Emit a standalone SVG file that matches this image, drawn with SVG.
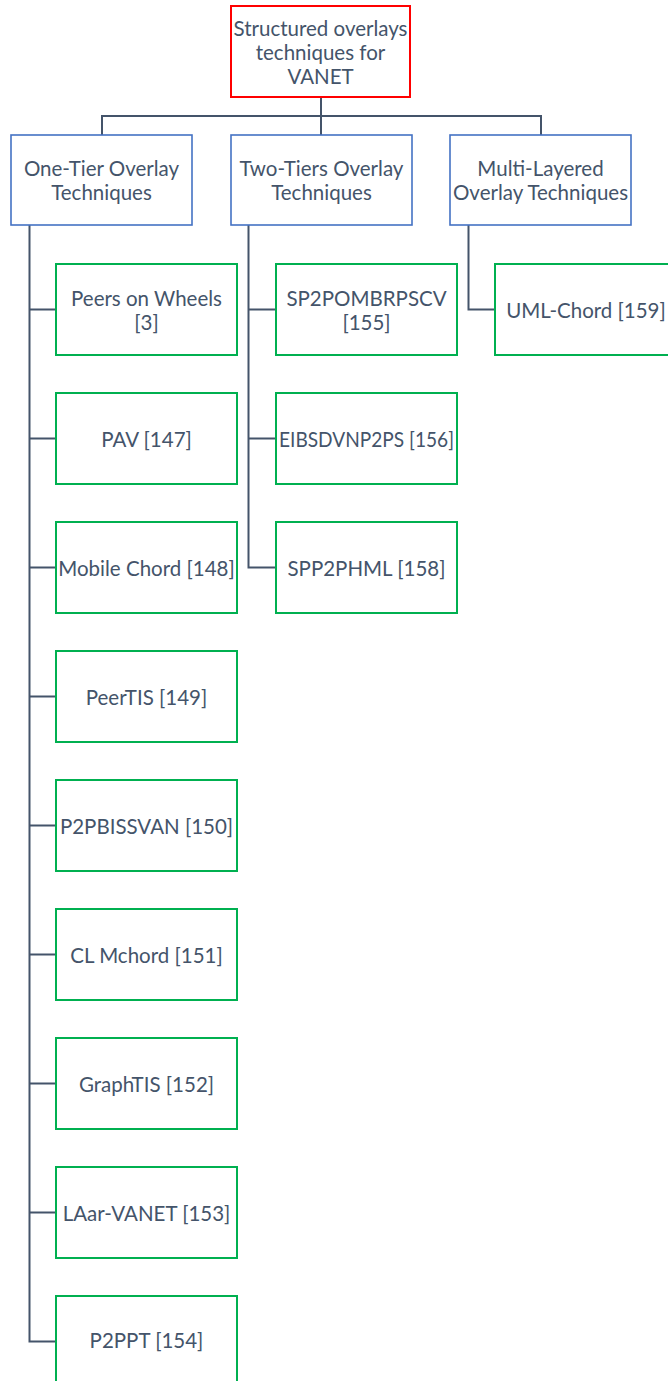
<svg xmlns="http://www.w3.org/2000/svg" width="668" height="1381" viewBox="0 0 668 1381">
<style>
  .t { font-family: Lato, "Liberation Sans", sans-serif; font-size: 20.5px; fill: #44546A; text-anchor: middle; dominant-baseline: central; }
  .root rect { fill: #FFFFFF; stroke: #FF0000; stroke-width: 2; }
  .cat rect { fill: #FFFFFF; stroke: #4472C4; stroke-width: 1.6; }
  .leaf rect { fill: #FFFFFF; stroke: #00B050; stroke-width: 2; }
  #connectors path { fill: none; stroke: #44546A; stroke-width: 2; }
</style>
<rect width="668" height="1381" fill="#FFFFFF"/>
<g id="connectors">
  <path d="M321 97 V116 M102 135 V116 H541 V135 M321 116 V135"/>
  <path d="M29.5 225 V1341.5 H56"/>
  <path d="M29.5 309.5 H56 M29.5 438.5 H56 M29.5 567.5 H56 M29.5 696.5 H56 M29.5 825.5 H56 M29.5 954.5 H56 M29.5 1083.5 H56 M29.5 1212.5 H56"/>
  <path d="M248.5 225 V567.5 H276 M248.5 309.5 H276 M248.5 438.5 H276"/>
  <path d="M468.5 225 V309.5 H495"/>
</g>
<g id="root" class="root">
  <rect x="231" y="6" width="179" height="91"/>
  <text class="t" x="320.5" y="27.5">Structured overlays</text>
  <text class="t" x="320.5" y="51.5">techniques for</text>
  <text class="t" x="320.5" y="75.5">VANET</text>
</g>
<g id="one-tier" class="cat">
  <rect x="11" y="135" width="181" height="90"/>
  <text class="t" x="101.5" y="168">One-Tier Overlay</text>
  <text class="t" x="101.5" y="192">Techniques</text>
</g>
<g id="two-tiers" class="cat">
  <rect x="231" y="135" width="181" height="90"/>
  <text class="t" x="321.5" y="168">Two-Tiers Overlay</text>
  <text class="t" x="321.5" y="192">Techniques</text>
</g>
<g id="multi-layered" class="cat">
  <rect x="450" y="135" width="181" height="90"/>
  <text class="t" x="540.5" y="168">Multi-Layered</text>
  <text class="t" x="540.5" y="192">Overlay Techniques</text>
</g>
<g id="peers-on-wheels" class="leaf">
  <rect x="56" y="264" width="181" height="91"/>
  <text class="t" x="146.5" y="297.5">Peers on Wheels</text>
  <text class="t" x="146.5" y="321.5">[3]</text>
</g>
<g id="pav" class="leaf">
  <rect x="56" y="393" width="181" height="91"/>
  <text class="t" x="146.5" y="438.5">PAV [147]</text>
</g>
<g id="mobile-chord" class="leaf">
  <rect x="56" y="522" width="181" height="91"/>
  <text class="t" x="146.5" y="567.5">Mobile Chord [148]</text>
</g>
<g id="peertis" class="leaf">
  <rect x="56" y="651" width="181" height="91"/>
  <text class="t" x="146.5" y="696.5">PeerTIS [149]</text>
</g>
<g id="p2pbissvan" class="leaf">
  <rect x="56" y="780" width="181" height="91"/>
  <text class="t" x="146.5" y="825.5">P2PBISSVAN [150]</text>
</g>
<g id="cl-mchord" class="leaf">
  <rect x="56" y="909" width="181" height="91"/>
  <text class="t" x="146.5" y="954.5">CL Mchord [151]</text>
</g>
<g id="graphtis" class="leaf">
  <rect x="56" y="1038" width="181" height="91"/>
  <text class="t" x="146.5" y="1083.5">GraphTIS [152]</text>
</g>
<g id="laar-vanet" class="leaf">
  <rect x="56" y="1167" width="181" height="91"/>
  <text class="t" x="146.5" y="1212.5">LAar-VANET [153]</text>
</g>
<g id="p2ppt" class="leaf">
  <rect x="56" y="1296" width="181" height="91"/>
  <text class="t" x="146.5" y="1340">P2PPT [154]</text>
</g>
<g id="sp2pombrpscv" class="leaf">
  <rect x="276" y="264" width="181" height="91"/>
  <text class="t" x="366.5" y="297.5">SP2POMBRPSCV</text>
  <text class="t" x="366.5" y="321.5">[155]</text>
</g>
<g id="eibsdvnp2ps" class="leaf">
  <rect x="276" y="393" width="181" height="91"/>
  <text class="t" x="366.5" y="438.5" textLength="175" lengthAdjust="spacingAndGlyphs">EIBSDVNP2PS [156]</text>
</g>
<g id="spp2phml" class="leaf">
  <rect x="276" y="522" width="181" height="91"/>
  <text class="t" x="366.5" y="567.5">SPP2PHML [158]</text>
</g>
<g id="uml-chord" class="leaf">
  <rect x="495" y="264" width="182" height="91"/>
  <text class="t" x="586" y="309.5">UML-Chord [159]</text>
</g>
</svg>
